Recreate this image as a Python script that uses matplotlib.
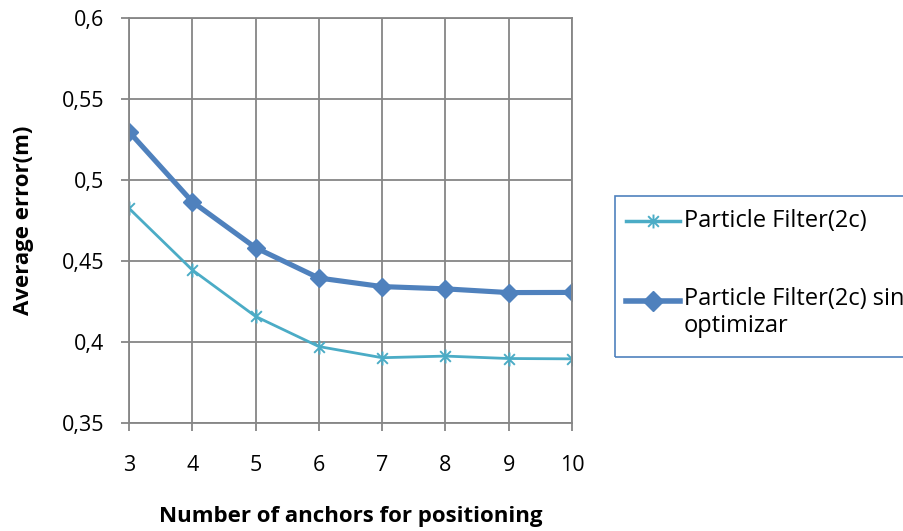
import numpy as np
import matplotlib.pyplot as plt
from matplotlib.path import Path
from matplotlib.lines import Line2D
from matplotlib.patches import Rectangle

plt.rcParams['font.family'] = ['Open Sans', 'DejaVu Sans']

# Data
anchors = [3, 4, 5, 6, 7, 8, 9, 10]
pf_2c = [0.4825, 0.4445, 0.4158, 0.3972, 0.3903, 0.3913, 0.3898, 0.3896]
pf_2c_sin_opt = [0.5298, 0.4866, 0.4582, 0.4395, 0.4342, 0.4328, 0.4305, 0.4306]
y_ticks = [0.35, 0.4, 0.45, 0.5, 0.55, 0.6]
y_tick_labels = ['0,35', '0,4', '0,45', '0,5', '0,55', '0,6']
label_pf = 'Particle Filter(2c)'
label_pf_sin = 'Particle Filter(2c) sin\noptimizar'

light = '#4BACC6'
dark = '#4F81BD'
grid_col = '#868686'

# asterisk marker like Excel's: x plus vertical bar
star = Path([(-1, -1), (1, 1), (-1, 1), (1, -1), (0, -1.3), (0, 1.3)],
            [Path.MOVETO, Path.LINETO, Path.MOVETO, Path.LINETO, Path.MOVETO, Path.LINETO])

fig = plt.figure(figsize=(9.04, 5.31), dpi=100)
ax = fig.add_axes([0.1427, 0.2034, 0.4900, 0.7627])

ax.plot(anchors, pf_2c, color=light, lw=2.0, marker=star, markersize=10,
        markeredgewidth=1.4, markeredgecolor=light)
ax.plot(anchors, pf_2c_sin_opt, color=dark, lw=3.7, marker='D', markersize=9.5,
        markeredgecolor=dark, markerfacecolor=dark)

ax.set_xlim(3, 10)
ax.set_ylim(0.35, 0.6)
ax.set_xticks(anchors)
ax.set_yticks(y_ticks)
ax.set_yticklabels(y_tick_labels)
ax.grid(color=grid_col, lw=1.3)
ax.set_axisbelow(True)
for s in ax.spines.values():
    s.set_color(grid_col)
    s.set_linewidth(1.3)
ax.tick_params(axis='both', length=6, width=1.3, color=grid_col, labelsize=15.5,
               labelcolor='black')
ax.tick_params(axis='x', pad=17)
ax.tick_params(axis='y', pad=12)

ax.set_xlabel('Number of anchors for positioning', fontsize=16, fontweight='bold', labelpad=22)
ax.set_ylabel('Average error(m)', fontsize=16, fontweight='bold', labelpad=20)

# Legend drawn manually (handle aligned with first text line)
W, H = 904, 531
def fx(px):
    return px / W
def fy(py):
    return 1 - py / H

fig.patches.append(Rectangle((fx(615), fy(357)), fx(960) - fx(615), fy(196) - fy(357),
                             transform=fig.transFigure, fill=False, edgecolor=dark, lw=1.2))
fig.lines.append(Line2D([fx(626), fx(680)], [fy(221), fy(221)], transform=fig.transFigure,
                        color=light, lw=2.5))
fig.lines.append(Line2D([fx(653)], [fy(221)], transform=fig.transFigure, color=light,
                        marker=star, markersize=10, markeredgewidth=1.4, lw=0))
fig.lines.append(Line2D([fx(626), fx(680)], [fy(301), fy(301)], transform=fig.transFigure,
                        color=dark, lw=4))
fig.lines.append(Line2D([fx(653)], [fy(301)], transform=fig.transFigure, color=dark,
                        marker='D', markersize=10, lw=0))
fig.text(fx(684), fy(221), label_pf, fontsize=17, va='center', ha='left')
fig.text(fx(684), fy(287), label_pf_sin, fontsize=17, va='top', ha='left',
         linespacing=1.15)

fig.savefig('out.png', dpi=100)
